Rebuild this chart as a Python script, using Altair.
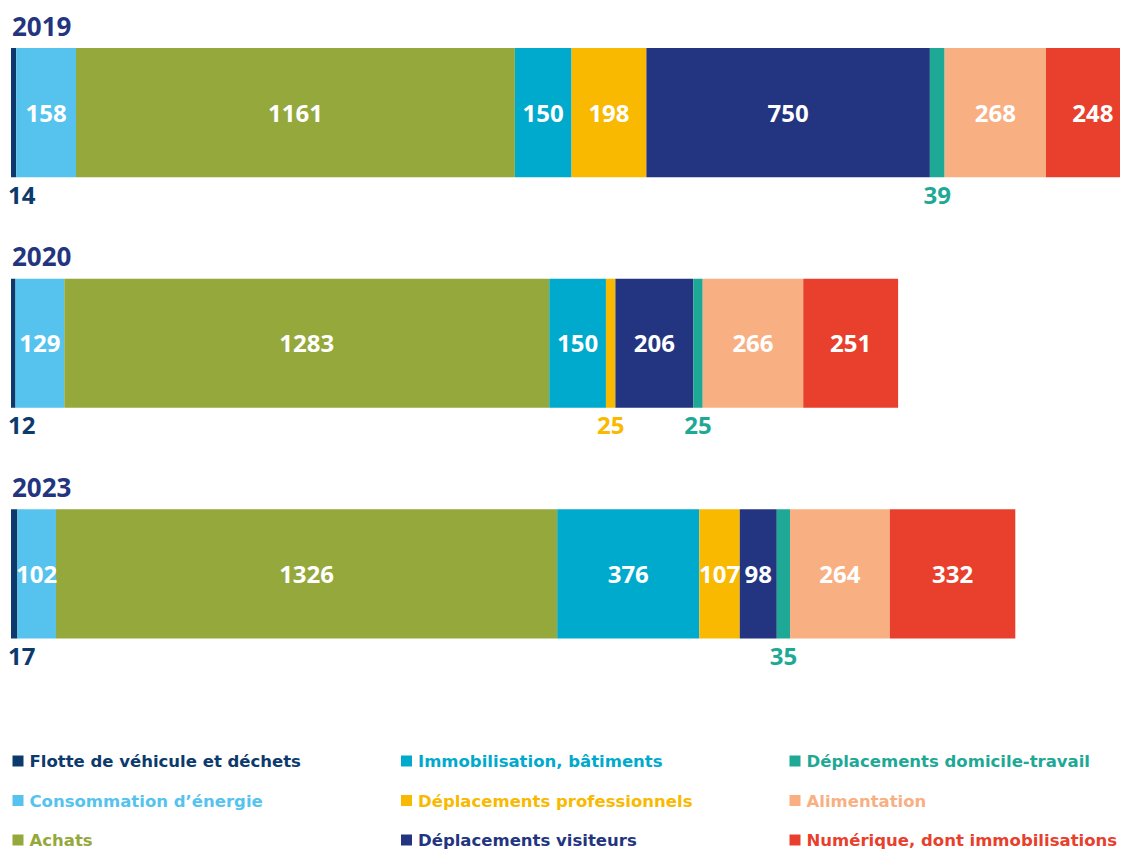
import altair as alt
import pandas as pd

years = ["2019", "2020", "2023"]
categories = [
    "Flotte de véhicule et déchets",
    "Consommation d’énergie",
    "Achats",
    "Immobilisation, bâtiments",
    "Déplacements professionnels",
    "Déplacements visiteurs",
    "Déplacements domicile-travail",
    "Alimentation",
    "Numérique, dont immobilisations",
]
colors = ["#0d3a6c", "#56c3ef", "#95a83c", "#00aacd", "#f9b900",
          "#233580", "#1ea896", "#f8b083", "#e8402c"]
values_2019 = [14, 158, 1161, 150, 198, 750, 39, 268, 248]
values_2020 = [12, 129, 1283, 150, 25, 206, 25, 266, 251]
values_2023 = [17, 102, 1326, 376, 107, 98, 35, 264, 332]
# legend layout (column, row) of each category
legend_col = [0, 0, 0, 1, 1, 1, 2, 2, 2]
legend_row = [0, 1, 2, 0, 1, 2, 0, 1, 2]

rows = []
for y, vals in zip(years, [values_2019, values_2020, values_2023]):
    for i, (c, v) in enumerate(zip(categories, vals)):
        rows.append({"year": y, "cat": c, "idx": i, "v": v, "label": str(v)})
df = pd.DataFrame(rows)
leg = pd.DataFrame({"cat": categories, "col": legend_col, "row": legend_row})
yr = pd.DataFrame({"year": years, "x": [0] * len(years)})

NUM_FONT = "Open Sans"
xs = alt.Scale(domain=[0, 2934], nice=False, zero=True)
ys = alt.Scale(domain=years, range=[40, 630.5], paddingInner=0.44, paddingOuter=0)
cs = alt.Scale(domain=categories, range=colors)

base = alt.Chart(df).transform_stack(
    stack="v", groupby=["year"], as_=["x0", "x1"],
    sort=[alt.SortField("idx", order="ascending")]
).transform_calculate(mid="(datum.x0 + datum.x1) / 2")

bars = base.mark_bar(stroke=None).encode(
    x=alt.X("x0:Q", scale=xs, axis=None),
    x2="x1:Q",
    y=alt.Y("year:N", scale=ys, axis=None),
    color=alt.Color("cat:N", scale=cs, legend=None),
)

inside = base.transform_filter("datum.v >= 50").mark_text(
    font=NUM_FONT, fontWeight="bold", fontSize=24, color="white",
    baseline="alphabetic", dy=9,
).encode(x=alt.X("mid:Q", scale=xs), y=alt.Y("year:N", scale=ys), text="label:N")

below = base.transform_filter("datum.v < 50 && datum.idx > 0").mark_text(
    font=NUM_FONT, fontWeight="bold", fontSize=24,
    baseline="alphabetic", dy=91,
).encode(x=alt.X("mid:Q", scale=xs), y=alt.Y("year:N", scale=ys), text="label:N",
         color=alt.Color("cat:N", scale=cs, legend=None))

below_first = base.transform_filter("datum.v < 50 && datum.idx == 0").mark_text(
    font=NUM_FONT, fontWeight="bold", fontSize=24, align="left",
    baseline="alphabetic", dy=91, dx=-3,
).encode(x=alt.X("x0:Q", scale=xs), y=alt.Y("year:N", scale=ys), text="label:N",
         color=alt.Color("cat:N", scale=cs, legend=None))

titles = alt.Chart(yr).mark_text(
    font=NUM_FONT, fontWeight="bold", fontSize=26, align="left",
    baseline="alphabetic", dy=-77, dx=1, color="#24357f",
).encode(x=alt.X("x:Q", scale=xs), y=alt.Y("year:N", scale=ys), text="year:N")

main = alt.layer(bars, inside, below, below_first, titles)

lx = alt.Scale(domain=[0, 2], range=[7, 784])
ly = alt.Scale(domain=[0, 2], range=[753, 832])
lbase = alt.Chart(leg)
squares = lbase.mark_point(shape="square", filled=True, size=121, opacity=1).encode(
    x=alt.X("col:Q", scale=lx, axis=None),
    y=alt.Y("row:Q", scale=ly, axis=None),
    color=alt.Color("cat:N", scale=cs, legend=None),
)
ltext = lbase.mark_text(
    font="DejaVu Sans", fontWeight="bold", fontSize=16.5, align="left",
    baseline="alphabetic", dx=11.5, dy=6,
).encode(
    x=alt.X("col:Q", scale=lx, axis=None),
    y=alt.Y("row:Q", scale=ly, axis=None),
    text="cat:N",
    color=alt.Color("cat:N", scale=cs, legend=None),
)
legend = alt.layer(squares, ltext)

chart = alt.layer(main, legend).resolve_scale(
    x="independent", y="independent"
).properties(
    width=1109, height=842,
    autosize=alt.AutoSizeParams(type="none"),
    padding={"left": 3, "right": 0, "top": 0, "bottom": 0},
).configure_view(stroke=None)

chart.save("out.html", embed_options={"renderer": "svg", "actions": False})
